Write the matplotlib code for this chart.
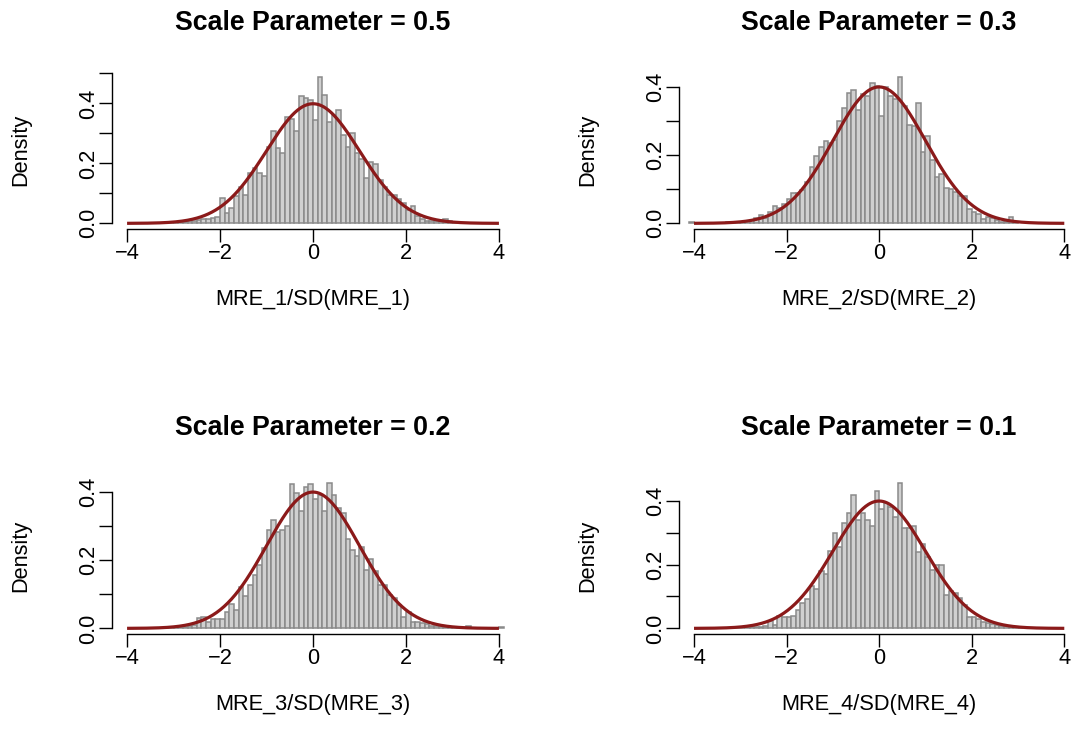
import numpy as np
import matplotlib
matplotlib.use("Agg")
import matplotlib.pyplot as plt

plt.rcParams['font.family'] = ['Liberation Sans', 'DejaVu Sans']

# histogram densities, bins of width 0.1
bin_width = 0.1

start_1 = -3.5
dens_1 = [0.002, 0.002, 0.002, 0.002, 0.002, 0.003, 0.004, 0.006, 0.007, 0.009,
          0.011, 0.013, 0.014, 0.017, 0.022, 0.083, 0.033, 0.052, 0.091, 0.122,
          0.094, 0.167, 0.183, 0.169, 0.159, 0.256, 0.309, 0.253, 0.233, 0.356,
          0.348, 0.309, 0.424, 0.417, 0.413, 0.344, 0.487, 0.429, 0.337, 0.362,
          0.379, 0.296, 0.254, 0.303, 0.233, 0.216, 0.151, 0.206, 0.197, 0.144,
          0.122, 0.094, 0.093, 0.080, 0.069, 0.044, 0.058, 0.024, 0.013, 0.009,
          0.007, 0.007, 0.011, 0.013, 0.009, 0.002]

start_2 = -4.1
dens_2 = [0.003, 0.0, 0.0, 0.0, 0.0, 0.0, 0.0, 0.001, 0.003, 0.001,
          0.003, 0.005, 0.008, 0.010, 0.015, 0.024, 0.016, 0.034, 0.051, 0.044,
          0.057, 0.070, 0.088, 0.088, 0.098, 0.122, 0.164, 0.197, 0.222, 0.241,
          0.236, 0.245, 0.300, 0.336, 0.380, 0.390, 0.331, 0.379, 0.371, 0.410,
          0.403, 0.313, 0.398, 0.373, 0.364, 0.427, 0.344, 0.287, 0.284, 0.351,
          0.208, 0.256, 0.184, 0.135, 0.143, 0.102, 0.100, 0.093, 0.080, 0.080,
          0.041, 0.034, 0.027, 0.013, 0.018, 0.016, 0.010, 0.005, 0.005, 0.020,
          0.004]

start_3 = -3.2
dens_3 = [0.002, 0.003, 0.003, 0.004, 0.005, 0.006, 0.009, 0.031, 0.034, 0.020,
          0.026, 0.026, 0.026, 0.049, 0.071, 0.054, 0.120, 0.095, 0.127, 0.157,
          0.186, 0.234, 0.288, 0.317, 0.283, 0.288, 0.300, 0.424, 0.397, 0.344,
          0.415, 0.422, 0.380, 0.390, 0.344, 0.426, 0.390, 0.351, 0.338, 0.263,
          0.229, 0.212, 0.239, 0.171, 0.202, 0.168, 0.127, 0.127, 0.098, 0.088,
          0.068, 0.032, 0.049, 0.018, 0.020, 0.015, 0.012, 0.007, 0.008, 0.007,
          0.005, 0.004, 0.003, 0.003, 0.002, 0.007, 0.002, 0.0, 0.0, 0.0,
          0.0, 0.0, 0.005]

start_4 = -3.2
dens_4 = [0.001, 0.002, 0.002, 0.003, 0.003, 0.004, 0.005, 0.007, 0.024, 0.010,
          0.039, 0.037, 0.037, 0.039, 0.057, 0.078, 0.091, 0.133, 0.122, 0.181,
          0.170, 0.242, 0.300, 0.254, 0.329, 0.360, 0.418, 0.339, 0.360, 0.339,
          0.321, 0.431, 0.373, 0.392, 0.379, 0.348, 0.456, 0.313, 0.316, 0.321,
          0.240, 0.264, 0.225, 0.183, 0.200, 0.200, 0.105, 0.118, 0.110, 0.095,
          0.073, 0.037, 0.035, 0.028, 0.021, 0.018, 0.014, 0.012, 0.009, 0.008,
          0.005, 0.003, 0.002]

titles = ["Scale Parameter = 0.5", "Scale Parameter = 0.3",
          "Scale Parameter = 0.2", "Scale Parameter = 0.1"]
xlabels = ["MRE_1/SD(MRE_1)", "MRE_2/SD(MRE_2)",
           "MRE_3/SD(MRE_3)", "MRE_4/SD(MRE_4)"]
xticks = [-4, -2, 0, 2, 4]

# reference normal curve
norm_mean = 0.0
norm_sd = 1.0

starts = [start_1, start_2, start_3, start_4]
dens = [dens_1, dens_2, dens_3, dens_4]

W, H = 1072, 746
fig = plt.figure(figsize=(W / 100, H / 100), dpi=100)

# plot regions in pixels: left, top, right, bottom
boxes = [(112.2, 71.5, 513.8, 229.2), (679.2, 71.5, 1079.1, 229.2),
         (112.2, 477.0, 513.8, 634.2), (679.2, 477.0, 1079.1, 634.2)]

fs = 15.7
xc = np.linspace(-4, 4, 400)
yc = np.exp(-0.5 * ((xc - norm_mean) / norm_sd) ** 2) / (norm_sd * np.sqrt(2 * np.pi))

for i in range(4):
    l, t, r, b = boxes[i]
    ax = fig.add_axes([l / W, 1 - b / H, (r - l) / W, (b - t) / H])
    d = np.array(dens[i])
    edges = starts[i] + bin_width * np.arange(len(d))
    ax.bar(edges, d, width=bin_width, align='edge', color='#d0d0d0',
           edgecolor='#8a8a8a', linewidth=1.1)
    ax.plot(xc, yc, color='#8b1a1a', lw=2.3, solid_capstyle='butt')

    ymax = d.max()
    ax.set_xlim(-4.32, 4.32)
    ax.set_ylim(-0.04 * ymax, 1.04 * ymax)

    yt = np.round(np.arange(0, ymax * 1.04 + 1e-9, 0.1), 1)
    ax.set_xticks(xticks)
    ax.set_yticks(yt)
    ax.set_yticklabels(["%.1f" % v if round(v * 10) % 2 == 0 else "" for v in yt],
                       rotation=90, va='center')

    for s in ['top', 'right']:
        ax.spines[s].set_visible(False)
    ax.spines['left'].set_bounds(0, yt[-1])
    ax.spines['bottom'].set_bounds(-4, 4)
    for s in ['left', 'bottom']:
        ax.spines[s].set_linewidth(1.0)
    ax.tick_params(axis='both', length=9.4, width=1.0, labelsize=fs)
    ax.tick_params(axis='x', pad=0.5)
    ax.tick_params(axis='y', pad=0.0)
    ax.patch.set_visible(False)

    ax.annotate(titles[i], (0.5, 1), xycoords='axes fraction', xytext=(0, 35),
                textcoords='offset points', ha='center', va='center',
                fontsize=fs * 1.23, fontweight='bold')
    ax.annotate(xlabels[i], (0.5, 0), xycoords='axes fraction', xytext=(0, -50.5),
                textcoords='offset points', ha='center', va='center', fontsize=fs)
    ax.annotate("Density", (0, 0.5), xycoords='axes fraction', xytext=(-66, 0),
                textcoords='offset points', ha='center', va='center',
                rotation=90, fontsize=fs)

fig.savefig("out.png", dpi=100)
